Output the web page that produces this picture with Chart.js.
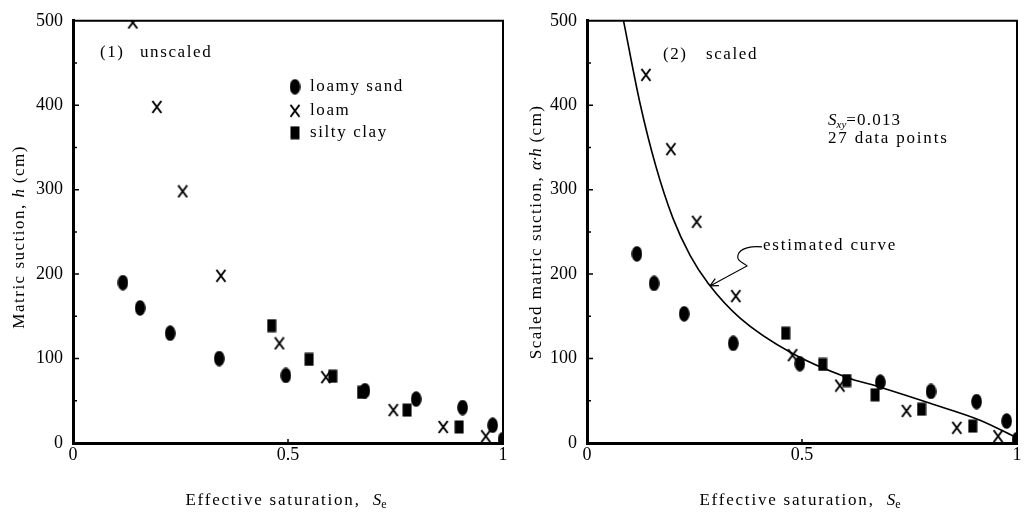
<!DOCTYPE html>
<html>
<head>
<meta charset="utf-8">
<script src="https://cdn.jsdelivr.net/npm/chart.js@4.4.0/dist/chart.umd.min.js"></script>
<style>
  html, body { margin: 0; padding: 0; background: #fff; }
  #wrap { position: relative; width: 1024px; height: 517px; }
  .box { position: absolute; top: 0; width: 512px; height: 517px; }
</style>
</head>
<body>
<div id="wrap">
  <div class="box" style="left:0"><canvas id="unscaledChart" width="512" height="517"></canvas></div>
  <div class="box" style="left:512px"><canvas id="scaledChart" width="512" height="517"></canvas></div>
</div>
<script>
const SERIF = '"Liberation Serif", "DejaVu Serif", serif';
Chart.defaults.font.family = SERIF;
Chart.defaults.color = '#000';

const xTicks = [0, 0.5, 1];
const yTicks = [0, 50, 100, 150, 200, 250, 300, 350, 400, 450, 500];
const yLabelled = [0, 100, 200, 300, 400, 500];
const soilNames = ['loamy sand', 'loam', 'silty clay'];

// (1) unscaled: h against Se
const sandSe1 = [0.116, 0.156, 0.226, 0.34, 0.495, 0.679, 0.798, 0.906, 0.976, 1.0];
const sandH1  = [190, 160, 130, 100, 80, 62, 52, 42, 21, 4];
const loamSe1 = [0.139, 0.195, 0.255, 0.344, 0.48, 0.588, 0.745, 0.861, 0.96];
const loamH1  = [498, 398, 298, 198, 118, 78, 39, 19, 8];
const claySe1 = [0.462, 0.549, 0.604, 0.671, 0.777, 0.898];
const clayH1  = [139, 99, 79, 60, 39, 19];

// (2) scaled: alpha*h against Se
const sandSe2 = [0.116, 0.156, 0.226, 0.34, 0.495, 0.682, 0.8, 0.906, 0.976, 1.0];
const sandH2  = [224, 189, 153, 118, 94, 72, 61, 49, 26, 4];
const loamSe2 = [0.137, 0.195, 0.255, 0.346, 0.478, 0.588, 0.743, 0.86, 0.956];
const loamH2  = [436, 348, 262, 174, 104, 68, 38, 18, 8];
const claySe2 = [0.462, 0.548, 0.604, 0.67, 0.778, 0.897];
const clayH2  = [130, 93, 74, 57, 40, 20];
const curveSe = [0.085, 0.123, 0.16, 0.2, 0.24, 0.282, 0.356, 0.478, 0.603, 0.682, 0.798, 0.914, 1.0];
const curveH  = [500, 403, 328, 266, 222, 189, 148, 106, 78, 66, 47, 27, 6];

function marker(kind) {
  const c = document.createElement('canvas');
  const g = c.getContext('2d');
  if (kind === 'ellipse') {
    c.width = 11; c.height = 16;
    g.fillStyle = '#000';
    g.beginPath(); g.ellipse(5.5, 8, 5.3, 7.8, 0, 0, Math.PI * 2); g.fill();
  } else if (kind === 'rect') {
    c.width = 10; c.height = 14;
    g.fillStyle = '#000';
    g.fillRect(0.5, 0.5, 9, 13);
  } else {
    c.width = 12; c.height = 14;
    g.strokeStyle = '#000'; g.lineWidth = 2;
    g.beginPath();
    g.moveTo(1.5, 1); g.lineTo(10.5, 13);
    g.moveTo(10.5, 1); g.lineTo(1.5, 13);
    g.stroke();
  }
  return c;
}
const markers = [marker('ellipse'), marker('cross'), marker('rect')];

function pts(xs, ys) {
  return xs.map((x, i) => ({ x: x, y: ys[i] }));
}

function pointSet(i, xs, ys) {
  return {
    label: soilNames[i],
    data: pts(xs, ys),
    pointStyle: markers[i],
    pointRadius: 6,
    showLine: false
  };
}

// text made of runs with their own fonts (italic symbols, subscripts)
function drawRuns(ctx, runs, x, y, align) {
  const widths = [];
  let total = 0;
  runs.forEach(r => {
    ctx.font = r.font;
    ctx.letterSpacing = r.ls || '0px';
    const w = ctx.measureText(r.t).width;
    widths.push(w);
    total += w;
  });
  let cx = align === 'center' ? x - total / 2 : x;
  runs.forEach((r, i) => {
    ctx.font = r.font;
    ctx.letterSpacing = r.ls || '0px';
    ctx.fillText(r.t, cx, y + (r.dy || 0));
    cx += widths[i];
  });
}

const F = '17px ' + SERIF;
const FI = 'italic 17px ' + SERIF;
const FS = '12px ' + SERIF;
const FSI = 'italic 11px ' + SERIF;

function framePlugin(cfg) {
  return {
    id: 'frame',
    afterDraw(chart) {
      const { ctx, chartArea: a, scales: { x, y } } = chart;
      ctx.save();
      ctx.strokeStyle = '#000';
      ctx.lineWidth = 2;
      ctx.beginPath();
      ctx.moveTo(a.left, a.top); ctx.lineTo(a.right, a.top); ctx.lineTo(a.right, a.bottom);
      ctx.stroke();
      // inward tick marks
      ctx.lineWidth = 1.5;
      ctx.beginPath();
      yTicks.forEach(v => {
        if (v === 0 || v === 500) return;
        const py = y.getPixelForValue(v);
        const len = yLabelled.includes(v) ? 6 : 4;
        ctx.moveTo(a.left, py); ctx.lineTo(a.left + len, py);
      });
      const px = x.getPixelForValue(0.5);
      ctx.moveTo(px, a.bottom); ctx.lineTo(px, a.bottom - 4);
      ctx.stroke();

      // axis titles
      ctx.fillStyle = '#000';
      ctx.textBaseline = 'middle';
      ctx.textAlign = 'left';
      drawRuns(ctx, [
        { t: 'Effective saturation,  ', font: F, ls: '1.8px' },
        { t: 'S', font: FI },
        { t: 'e', font: FS, dy: 4 }
      ], (a.left + a.right) / 2 - 2, a.bottom + 58, 'center');

      ctx.translate(cfg.yTitleX, (a.top + a.bottom) / 2 + cfg.yTitleShift);
      ctx.rotate(-Math.PI / 2);
      drawRuns(ctx, cfg.yTitle, 0, 0, 'center');
      ctx.restore();

      cfg.extra(chart);
    }
  };
}

function makeChart(id, datasets, padRight, yWidth, cfg) {
  return new Chart(document.getElementById(id), {
    type: 'scatter',
    data: { datasets: datasets },
    options: {
      responsive: false,
      animation: false,
      events: [],
      layout: { padding: { left: 0, right: padRight, top: 15, bottom: 0 } },
      scales: {
        x: {
          type: 'linear', min: 0, max: 1,
          afterBuildTicks: (axis) => { axis.ticks = xTicks.map(v => ({ value: v })); },
          afterFit: (axis) => { axis.height = 74; },
          ticks: { padding: 1, font: { size: 18 }, color: '#000', maxRotation: 0, autoSkip: false,
                   callback: (v) => String(v) },
          grid: { display: false, drawTicks: false },
          border: { display: true, width: 3, color: '#000' }
        },
        y: {
          type: 'linear', min: 0, max: 500,
          afterBuildTicks: (axis) => { axis.ticks = yTicks.map(v => ({ value: v })); },
          afterFit: (axis) => { axis.width = yWidth; },
          ticks: { padding: 10, font: { size: 18 }, color: '#000', autoSkip: false,
                   callback: (v) => yLabelled.includes(v) ? String(v) : '' },
          grid: { display: false, drawTicks: false },
          border: { display: true, width: 3, color: '#000' }
        }
      },
      plugins: {
        legend: { display: false },
        tooltip: { enabled: false }
      }
    },
    plugins: [framePlugin(cfg)]
  });
}

makeChart('unscaledChart', [
  pointSet(0, sandSe1, sandH1),
  pointSet(1, loamSe1, loamH1),
  pointSet(2, claySe1, clayH1)
], 9, 73, {
  yTitleX: 20,
  yTitleShift: 5,
  yTitle: [
    { t: 'Matric suction, ', font: F, ls: '1.5px' },
    { t: 'h', font: FI },
    { t: ' (cm)', font: F, ls: '1.5px' }
  ],
  extra: (chart) => {
    const { ctx, chartArea: a } = chart;
    ctx.save();
    ctx.fillStyle = '#000';
    ctx.textBaseline = 'middle';
    ctx.textAlign = 'left';
    ctx.font = F;
    ctx.letterSpacing = '1.6px';
    ctx.fillText('(1)', a.left + 27, a.top + 32);
    ctx.fillText('unscaled', a.left + 67, a.top + 32);
    // legend
    const rows = [66, 90, 112];
    soilNames.forEach((name, i) => {
      const m = markers[i];
      ctx.drawImage(m, a.left + 222 - m.width / 2, a.top + rows[i] - m.height / 2);
      ctx.fillText(name, a.left + 237, a.top + rows[i]);
    });
    ctx.restore();
  }
});

makeChart('scaledChart', [
  {
    label: 'estimated curve',
    data: pts(curveSe, curveH),
    showLine: true,
    pointRadius: 0,
    borderColor: '#000',
    borderWidth: 1.6,
    cubicInterpolationMode: 'monotone',
    fill: false
  },
  pointSet(0, sandSe2, sandH2),
  pointSet(1, loamSe2, loamH2),
  pointSet(2, claySe2, clayH2)
], 7, 75, {
  yTitleX: 25,
  yTitleShift: 0,
  yTitle: [
    { t: 'Scaled matric suction, ', font: F, ls: '1.5px' },
    { t: 'α·h', font: FI },
    { t: ' (cm)', font: F, ls: '1.5px' }
  ],
  extra: (chart) => {
    const { ctx, chartArea: a, scales: { x, y } } = chart;
    ctx.save();
    ctx.fillStyle = '#000';
    ctx.strokeStyle = '#000';
    ctx.textBaseline = 'middle';
    ctx.textAlign = 'left';
    ctx.font = F;
    ctx.letterSpacing = '1.6px';
    ctx.fillText('(2)', a.left + 76, a.top + 34);
    ctx.fillText('scaled', a.left + 119, a.top + 34);
    drawRuns(ctx, [
      { t: 'S', font: FI },
      { t: 'xy', font: FSI, dy: 4 },
      { t: '=0.013', font: F, ls: '1.2px' }
    ], a.left + 241, a.top + 100, 'left');
    ctx.font = F;
    ctx.letterSpacing = '1.8px';
    ctx.fillText('27 data points', a.left + 241, a.top + 118);
    ctx.fillText('estimated curve', a.left + 176, a.top + 225);

    // wavy arrow to the curve
    const tx = x.getPixelForValue(0.286);
    const ty = y.getPixelForValue(186);
    ctx.lineWidth = 1.2;
    ctx.beginPath();
    ctx.moveTo(tx + 52, ty - 39);
    ctx.bezierCurveTo(tx + 42, ty - 40, tx + 30, ty - 38, tx + 28, ty - 31);
    ctx.bezierCurveTo(tx + 26, ty - 25, tx + 34, ty - 23, tx + 37, ty - 20);
    ctx.lineTo(tx, ty);
    ctx.stroke();
    const ang = Math.atan2(-20, 37);
    ctx.beginPath();
    [0.45, -0.45].forEach(d => {
      ctx.moveTo(tx, ty);
      ctx.lineTo(tx + 9 * Math.cos(ang + d), ty + 9 * Math.sin(ang + d));
    });
    ctx.stroke();
    ctx.restore();
  }
});
</script>
</body>
</html>
